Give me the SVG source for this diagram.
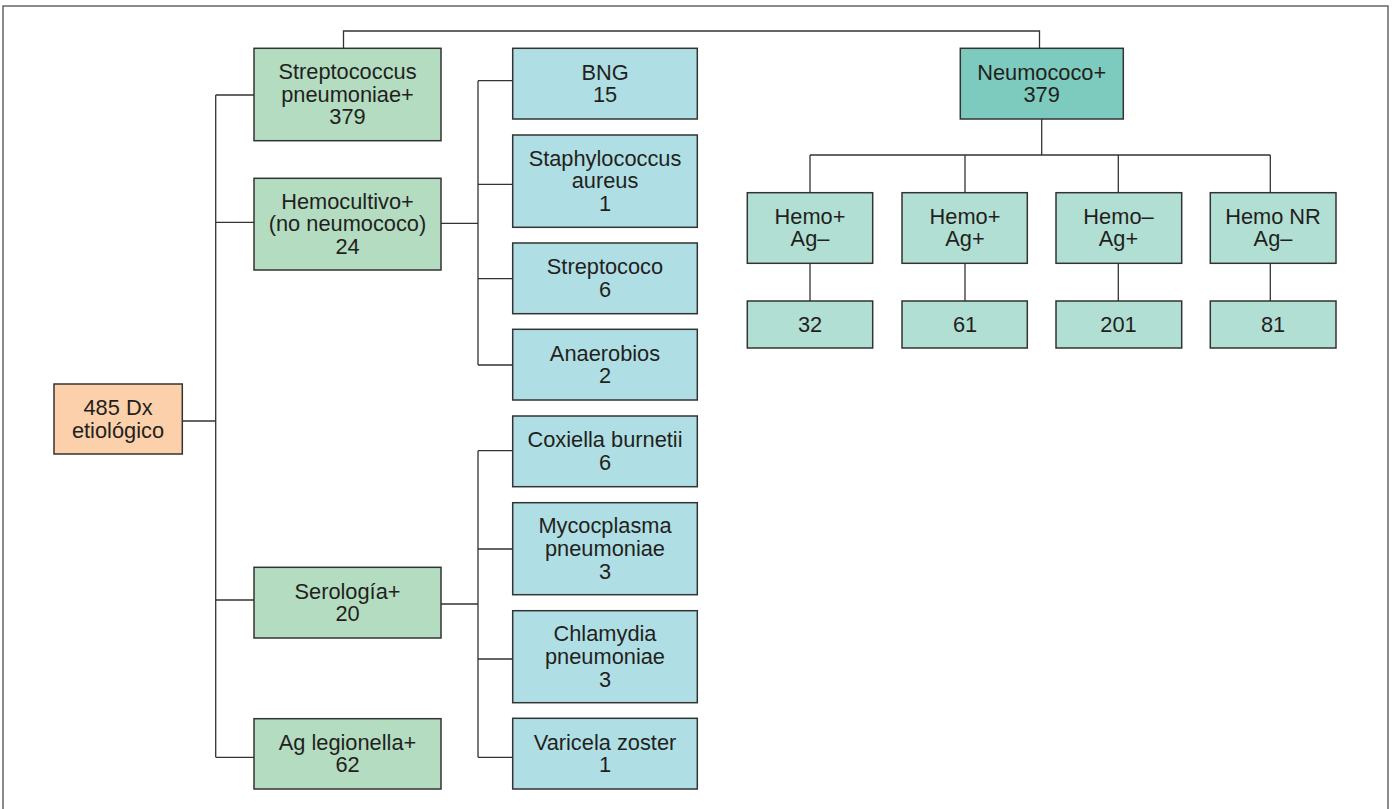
<svg xmlns="http://www.w3.org/2000/svg" width="1392" height="809" viewBox="0 0 1392 809">
<style>
.box{stroke:#333;stroke-width:1.5}
.g{fill:#b3dcc0}.c{fill:#afdfe4}.d{fill:#7dcbbe}.l{fill:#b1dfd3}.o{fill:#fcd0aa}
text{font-family:"Liberation Sans",Arial,sans-serif;font-size:21.8px;fill:#231f20;text-anchor:middle}
.conn{fill:none;stroke:#333;stroke-width:1.3}
</style>
<rect x="0" y="0" width="1392" height="809" fill="#fff"/>
<rect x="3" y="6" width="1385" height="810" fill="none" stroke="#666" stroke-width="1.5"/>
<g id="connectors" class="conn">
<path d="M343.5 48.3V31H1039.5V48.3"/>
<path d="M182.3 421H215.7M215.7 95V757.3M215.7 95H254M215.7 222.3H254M215.7 600H254M215.7 757.3H254"/>
<path d="M441 223.3H478M478 80.7V365M478 80.7H512.7M478 184.3H512.7M478 278.7H512.7M478 365H512.7"/>
<path d="M441 604H478M478 450.7V757.3M478 450.7H512.7M478 549H512.7M478 659H512.7M478 757.3H512.7"/>
<path d="M1041.7 119V155M810 155H1270.3M810 155V192.7M965 155V192.7M1118.3 155V192.7M1270.3 155V192.7"/>
<path d="M810 263.3V301M965 263.3V301M1118.3 263.3V301M1270.3 263.3V301"/>
</g>
<g id="root"><rect class="box o" x="54" y="384" width="128.3" height="70"/><text x="118" y="414.9">485 Dx</text><text x="118" y="437.6">etiológico</text></g>
<g id="strep"><rect class="box g" x="254" y="48.3" width="187" height="92.4"/><text x="347.5" y="79">Streptococcus</text><text x="347.5" y="101.7">pneumoniae+</text><text x="347.5" y="124.4">379</text></g>
<g id="hemocultivo"><rect class="box g" x="254" y="178.3" width="187" height="91.7"/><text x="347.5" y="208.7">Hemocultivo+</text><text x="347.5" y="231.4">(no neumococo)</text><text x="347.5" y="254.1">24</text></g>
<g id="serologia"><rect class="box g" x="254" y="567.3" width="187" height="70.7"/><text x="347.5" y="598.5">Serología+</text><text x="347.5" y="621.2">20</text></g>
<g id="legionella"><rect class="box g" x="254" y="718.7" width="187" height="70.3"/><text x="347.5" y="749.7">Ag legionella+</text><text x="347.5" y="772.4">62</text></g>
<g id="bng"><rect class="box c" x="512.7" y="48.3" width="184.6" height="70.7"/><text x="605" y="79.5">BNG</text><text x="605" y="102.2">15</text></g>
<g id="staph"><rect class="box c" x="512.7" y="135" width="184.6" height="92.3"/><text x="605" y="165.7">Staphylococcus</text><text x="605" y="188.4">aureus</text><text x="605" y="211.1">1</text></g>
<g id="streptococo"><rect class="box c" x="512.7" y="243" width="184.6" height="70.7"/><text x="605" y="274.2">Streptococo</text><text x="605" y="296.9">6</text></g>
<g id="anaerobios"><rect class="box c" x="512.7" y="329.3" width="184.6" height="70.7"/><text x="605" y="360.5">Anaerobios</text><text x="605" y="383.2">2</text></g>
<g id="coxiella"><rect class="box c" x="512.7" y="416" width="184.6" height="70.7"/><text x="605" y="447.2">Coxiella burnetii</text><text x="605" y="469.9">6</text></g>
<g id="mycoplasma"><rect class="box c" x="512.7" y="502.7" width="184.6" height="92"/><text x="605" y="533.2">Mycocplasma</text><text x="605" y="555.9">pneumoniae</text><text x="605" y="578.6">3</text></g>
<g id="chlamydia"><rect class="box c" x="512.7" y="610.7" width="184.6" height="92"/><text x="605" y="641.2">Chlamydia</text><text x="605" y="663.9">pneumoniae</text><text x="605" y="686.6">3</text></g>
<g id="varicela"><rect class="box c" x="512.7" y="718.3" width="184.6" height="70.7"/><text x="605" y="749.5">Varicela zoster</text><text x="605" y="772.2">1</text></g>
<g id="neumococo"><rect class="box d" x="960.3" y="48.3" width="163" height="70.7"/><text x="1041.7" y="79.5">Neumococo+</text><text x="1041.7" y="102.2">379</text></g>
<g id="hemo1"><rect class="box l" x="747.3" y="192.7" width="125.4" height="70.6"/><text x="810" y="223.5">Hemo+</text><text x="810" y="246.2">Ag–</text></g>
<g id="hemo2"><rect class="box l" x="902" y="192.7" width="125.3" height="70.6"/><text x="965" y="223.5">Hemo+</text><text x="965" y="246.2">Ag+</text></g>
<g id="hemo3"><rect class="box l" x="1056" y="192.7" width="125.7" height="70.6"/><text x="1118.5" y="223.5">Hemo–</text><text x="1118.5" y="246.2">Ag+</text></g>
<g id="hemo4"><rect class="box l" x="1210.3" y="192.7" width="125.7" height="70.6"/><text x="1273" y="223.5">Hemo NR</text><text x="1273" y="246.2">Ag–</text></g>
<g id="n32"><rect class="box l" x="747.3" y="301" width="125.4" height="47"/><text x="810" y="332">32</text></g>
<g id="n61"><rect class="box l" x="902" y="301" width="125.3" height="47"/><text x="965" y="332">61</text></g>
<g id="n201"><rect class="box l" x="1056" y="301" width="125.7" height="47"/><text x="1118.5" y="332">201</text></g>
<g id="n81"><rect class="box l" x="1210.3" y="301" width="125.7" height="47"/><text x="1273" y="332">81</text></g>
</svg>
